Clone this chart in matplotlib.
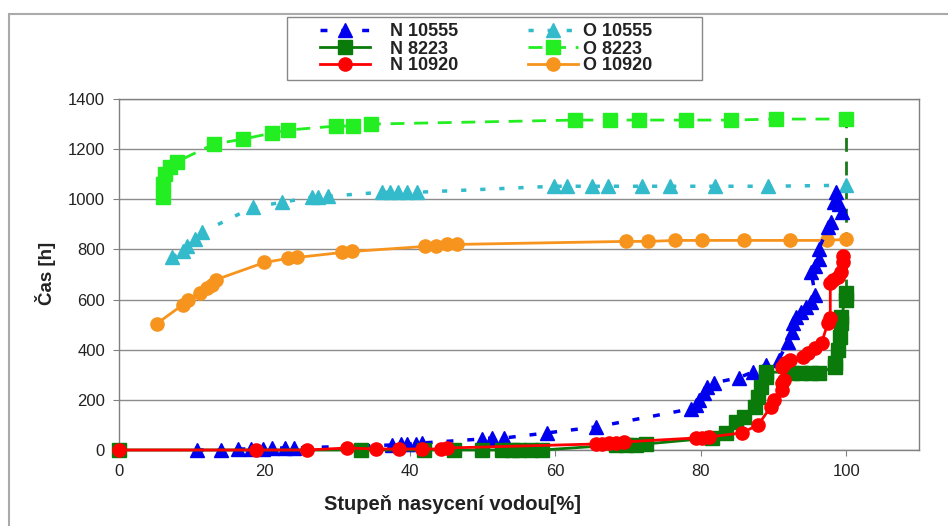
import matplotlib
matplotlib.use("Agg")
import matplotlib.pyplot as plt
from matplotlib.patches import Rectangle

plt.rcParams['font.family'] = ['Liberation Sans', 'DejaVu Sans']

# ---- data ----
n10555_x = [10.7, 14, 16.3, 18.2, 19.8, 21.1, 22.8, 24.1, 37.6, 38.8, 39.6, 40.9, 41.7,
            49.9, 51.3, 53, 58.8, 65.6, 78.6, 79.3, 79.7, 80.4, 80.8, 81.8, 85.2, 87.2,
            88.9, 90.7, 92.0, 92.5, 92.7, 93.1, 93.8, 94.5, 95.2, 95.7, 95.2, 95.7, 96.2,
            96.2, 97.5, 97.9, 98.3, 98.6, 99.0, 99.4]
n10555_y = [0, 0, 4, 4, 4, 8, 8, 8, 20, 24, 24, 24, 28,
            44, 48, 48, 68, 92, 164, 180, 200, 228, 252, 268, 288, 312,
            340, 360, 432, 472, 508, 532, 552, 572, 592, 620, 708, 732, 760,
            800, 888, 910, 990, 1030, 980, 950]

o10555_x = [7.3, 8.8, 9.3, 10.4, 11.4, 18.4, 22.4, 26.5, 27.3, 28.7, 36.1, 37.2, 38.3,
            39.6, 41.0, 59.8, 61.6, 65.0, 67.2, 71.9, 75.7, 81.9, 89.3, 100]
o10555_y = [768, 792, 812, 840, 868, 968, 988, 1008, 1008, 1012, 1028, 1028, 1028,
            1028, 1028, 1052, 1052, 1052, 1052, 1052, 1052, 1052, 1052, 1056]

n8223_x = [0, 33.3, 42, 46.1, 49.9, 52.7, 54, 55, 56.6, 58.2, 68.3, 69.7, 71.1, 72.4,
           81.5, 83.4, 84.8, 85.9, 87.5, 87.9, 88.3, 88.9, 88.9, 92.5, 93.8, 95.2,
           96.2, 98.5, 98.5, 98.9, 99.2, 99.3, 99.3, 99.9, 100]
n8223_y = [0, 0, 0, 0, 0, 0, 0, 0, 0, 0, 20, 20, 20, 24,
           48, 68, 112, 132, 172, 212, 252, 292, 312, 308, 308, 308,
           308, 332, 348, 400, 452, 508, 532, 600, 628]

o8223_x = [6.0, 6.0, 6.3, 7.0, 8.0, 13.0, 17.1, 21.0, 23.2, 29.8, 32.2, 34.7,
           62.7, 67.5, 71.5, 78.0, 84.2, 90.4, 100]
o8223_y = [1010, 1060, 1100, 1130, 1150, 1220, 1240, 1264, 1276, 1292, 1292, 1300,
           1316, 1316, 1316, 1316, 1316, 1320, 1320]

n10920_x = [0, 18.9, 25.8, 31.4, 35.4, 38.5, 41.7, 44.3, 45.1, 65.6, 66.4, 67.4, 68.3,
            69.4, 79.3, 80.1, 81.1, 85.6, 87.9, 89.6, 90.0, 91.1, 91.2, 91.4, 91.1,
            91.6, 92.3, 94.1, 94.8, 95.7, 96.6, 97.5, 97.8, 97.8, 98.2, 98.9, 99.3,
            99.6, 99.6]
n10920_y = [0, 0, 0, 8, 4, 4, 4, 4, 8, 24, 24, 28, 28,
            32, 48, 48, 52, 68, 100, 172, 200, 240, 268, 280, 332,
            348, 360, 372, 388, 408, 428, 508, 528, 668, 680, 692, 708,
            748, 772]

o10920_x = [5.2, 8.8, 9.5, 11.1, 12.1, 12.8, 13.4, 20.0, 23.2, 24.5, 30.7, 32.1,
            42.1, 43.6, 45.1, 46.5, 69.7, 72.8, 76.5, 80.2, 86.0, 92.3, 97.3, 99.9]
o10920_y = [504, 580, 600, 628, 648, 660, 680, 748, 764, 768, 788, 792,
            812, 812, 820, 820, 832, 832, 836, 836, 836, 836, 836, 840]

x_ticks = [0, 20, 40, 60, 80, 100]
y_ticks = [0, 200, 400, 600, 800, 1000, 1200, 1400]

# ---- figure ----
fig = plt.figure(figsize=(9.48, 5.26), dpi=100)
W, H = 948, 526
ax = fig.add_axes([119 / W, 1 - 450 / H, (919 - 119) / W, (450 - 99) / H])

# outer chart frame
fig.patches.append(Rectangle((9 / W, -0.1), 1.2, 1 - 14 / H + 0.1,
                             transform=fig.transFigure, fill=False,
                             edgecolor='#aaaaaa', linewidth=1.5))
# legend frame
fig.patches.append(Rectangle((287 / W, 1 - 80 / H), (702 - 287) / W, (80 - 17) / H,
                             transform=fig.transFigure, fill=True, facecolor='white',
                             edgecolor='#888888', linewidth=1, zorder=5))

ax.set_xlim(0, 110)
ax.set_ylim(0, 1400)
ax.set_xticks(x_ticks)
ax.set_yticks(y_ticks)
ax.grid(axis='y', color='#8c8c8c', linewidth=1)
ax.set_axisbelow(True)
for s in ax.spines.values():
    s.set_color('#808080')
    s.set_linewidth(1)
ax.tick_params(axis='both', length=4, color='#808080', labelsize=12,
               labelcolor='#222222', direction='out', pad=6)

ms = 9.5
# O series first (behind)
ax.plot(o8223_x, o8223_y, color='#22ee22', linestyle=(0, (5, 3.5)), linewidth=2,
        marker='s', markersize=ms, label='O 8223', clip_on=False, zorder=3)
ax.plot(o10555_x, o10555_y, color='#33bbcc', linestyle=(0, (1.5, 4)), linewidth=2.5,
        marker='^', markersize=ms, label='O 10555', clip_on=False, zorder=3)
ax.plot(o10920_x, o10920_y, color='#f7941d', linestyle='-', linewidth=2,
        marker='o', markersize=ms, label='O 10920', clip_on=False, zorder=3)

# dashed vertical connection at 100 %
ax.plot([n8223_x[-1], o8223_x[-1]], [n8223_y[-1], o8223_y[-1]], color='#1a7a1a',
        linestyle=(0, (5, 3.5)), linewidth=2, zorder=2)

ax.plot(n10555_x, n10555_y, color='#0000ee', linestyle=(0, (2, 4)), linewidth=2.5,
        marker='^', markersize=ms, label='N 10555', clip_on=False, zorder=4)
ax.plot(n8223_x, n8223_y, color='#0a7a0a', linestyle='-', linewidth=2,
        marker='s', markersize=ms, label='N 8223', clip_on=False, zorder=4)
ax.plot(n10920_x, n10920_y, color='#ff0000', linestyle='-', linewidth=2,
        marker='o', markersize=ms, label='N 10920', clip_on=False, zorder=5)

fig.text(452 / W, 1 - 505 / H, 'Stupeň nasycení vodou[%]', fontsize=14.5,
         fontweight='bold', color='#222222', ha='center', va='center')
fig.text(45 / W, 1 - 273 / H, 'Čas [h]', fontsize=13.5, fontweight='bold',
         color='#222222', ha='center', va='center', rotation=90)

handles, labels = ax.get_legend_handles_labels()
hmap = dict(zip(labels, handles))
col1 = ['N 10555', 'N 8223', 'N 10920']
col2 = ['O 10555', 'O 8223', 'O 10920']
common = dict(loc='center left', frameon=False, labelspacing=0.0, handlelength=2.75,
              borderpad=0.0, borderaxespad=0.0, prop={'weight': 'bold', 'size': 13})
leg1 = fig.legend([hmap[k] for k in col1], col1, bbox_to_anchor=(320 / W, 1 - 49 / H),
                  handletextpad=1.1, **common)
leg2 = fig.legend([hmap[k] for k in col2], col2, bbox_to_anchor=(528 / W, 1 - 49 / H),
                  handletextpad=0.3, **common)
for leg in (leg1, leg2):
    leg.set_zorder(6)
    for t in leg.get_texts():
        t.set_color('#222222')

fig.savefig('out.png', dpi=100)
